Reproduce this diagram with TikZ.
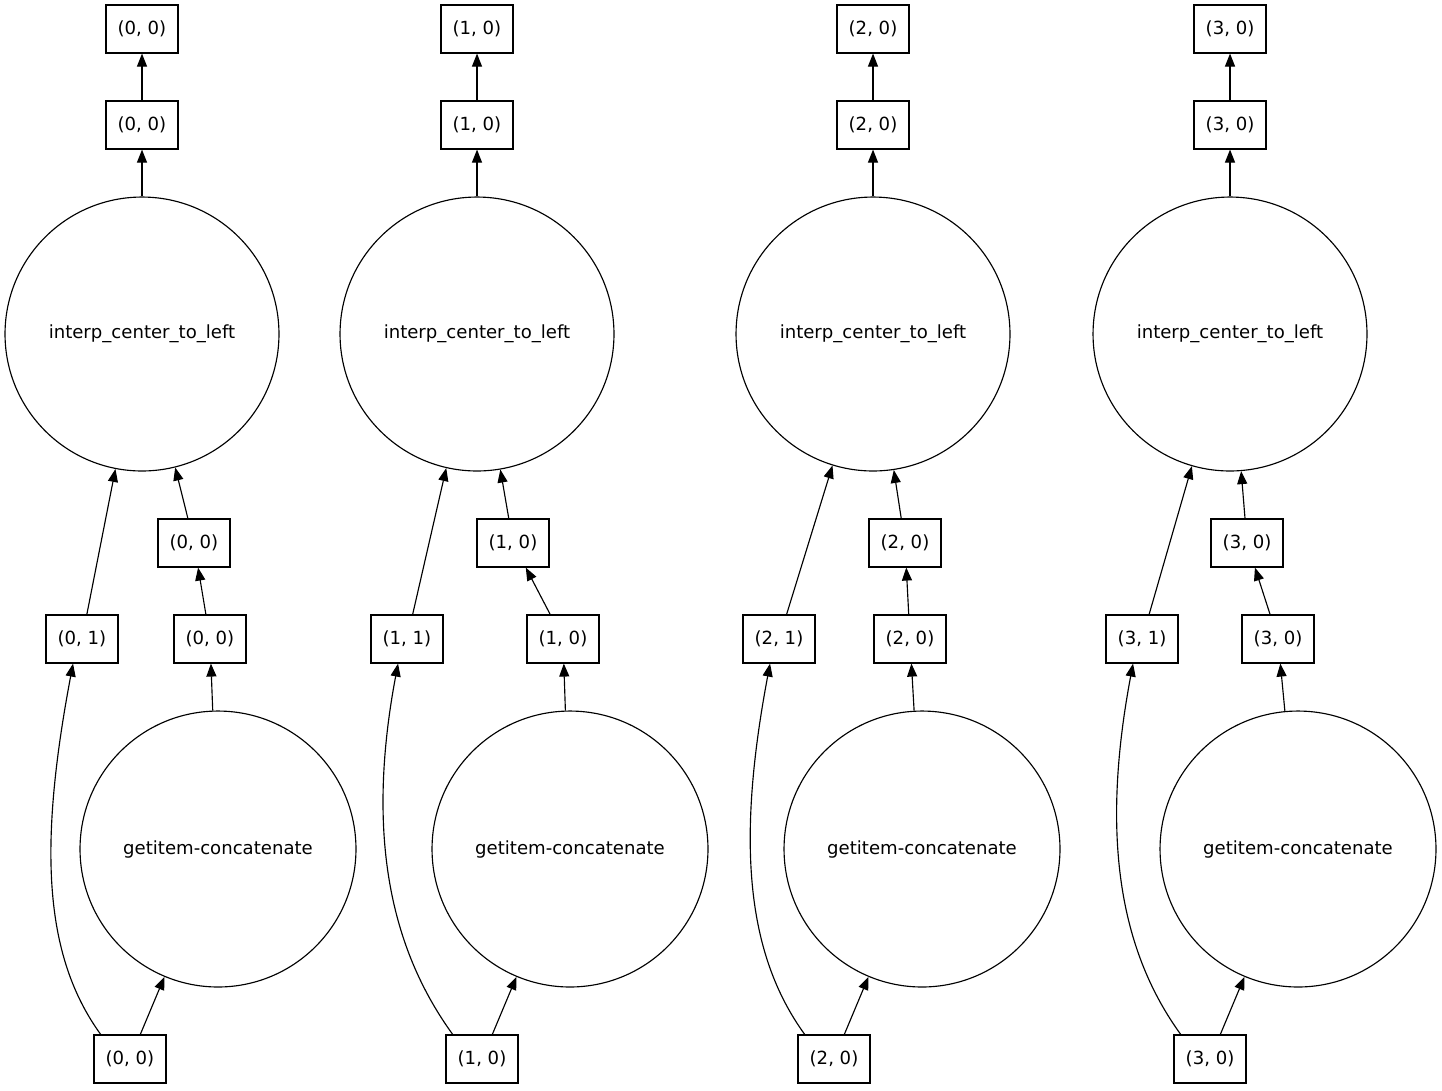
\documentclass[tikz,border=0pt]{standalone}
\usepackage{fontspec}
\setmainfont{DejaVu Sans}
\usetikzlibrary{arrows.meta}

\begin{document}
\begin{tikzpicture}[x=0.02cm,y=-0.02cm,line width=0.65pt,
  box/.style={draw,rectangle,minimum width=1.44cm,minimum height=0.96cm,inner sep=0pt,font=\fontsize{10.3}{12}\selectfont},
  task/.style={draw,circle,inner sep=0pt,font=\fontsize{10.3}{12}\selectfont},
  a/.style={-{Triangle[length=0.26cm,width=0.2cm]}}]
\useasboundingbox (0,0) rectangle (1442,1090);
\foreach \i/\xo/\xm/\xl/\xr/\xc/\xb in {0/142/194/82/210/218/130,1/477/513/407/563/570/482,2/873/905/779/910/922/834,3/1230/1247/1142/1278/1298/1210} {
\node[box] (top\i) at (\xo,29) {(\i, 0)};
\node[box] (out\i) at (\xo,125) {(\i, 0)};
\node[task,minimum size=5.48cm] (interp\i) at (\xo,334) {interp\_center\_to\_left};
\node[box] (mid\i) at (\xm,543) {(\i, 0)};
\node[box] (left\i) at (\xl,639) {(\i, 1)};
\node[box] (right\i) at (\xr,639) {(\i, 0)};
\node[task,minimum size=5.52cm] (cat\i) at (\xc,849) {getitem-concatenate};
\node[box] (bot\i) at (\xb,1059) {(\i, 0)};
\draw[a] (bot\i) -- (cat\i);
\draw[a] (bot\i.140) .. controls +(-58,-80) and +(-34,180) .. (left\i.250);
\draw[a] (cat\i) -- (right\i);
\draw[a] (right\i) -- (mid\i);
\draw[a] (left\i) -- (interp\i);
\draw[a] (mid\i) -- (interp\i);
\draw[a] (interp\i) -- (out\i);
\draw[a] (out\i) -- (top\i);
}
\end{tikzpicture}
\end{document}
